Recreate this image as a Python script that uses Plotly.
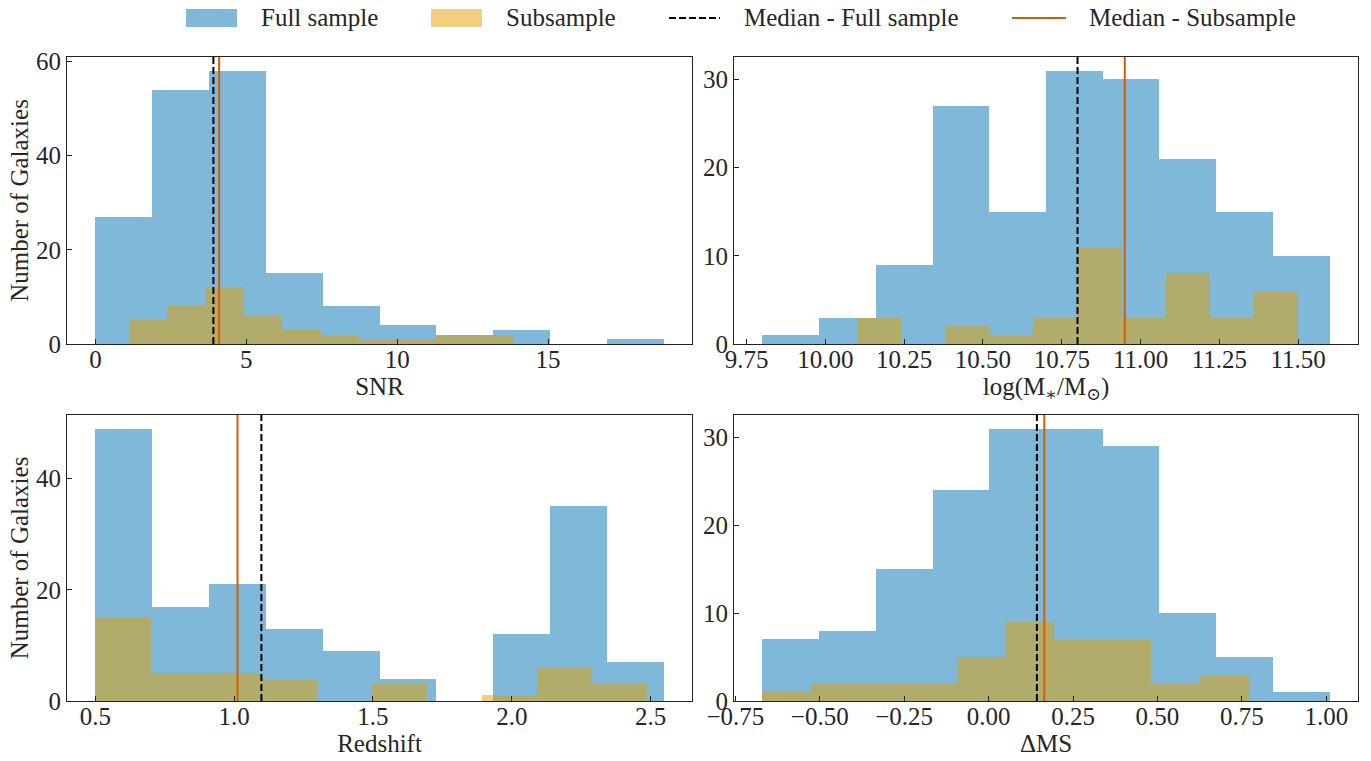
import numpy as np
import plotly.graph_objects as go

FULL_COLOR = "rgba(0,114,178,0.5)"
SUB_COLOR = "rgba(230,159,0,0.5)"
MED_FULL_COLOR = "black"
MED_SUB_COLOR = "#D55E00"
FONT = "Liberation Serif, Times New Roman, DejaVu Serif, serif"
FS = 25
TXT = "#262626"

# ---- histogram data: (bin range), counts per bin, medians (full, sub) ----
snr_full_range = (0.0, 18.83)
snr_full_counts = [27, 54, 58, 15, 8, 4, 2, 3, 0, 1]
snr_sub_range = (1.10, 13.85)
snr_sub_counts = [5, 8, 12, 6, 3, 2, 1, 1, 2, 2]
snr_medians = (3.91, 4.10)

mass_full_range = (9.80, 11.60)
mass_full_counts = [1, 3, 9, 27, 15, 31, 30, 21, 15, 10]
mass_sub_range = (10.10, 11.50)
mass_sub_counts = [3, 0, 2, 1, 3, 11, 3, 8, 3, 6]
mass_medians = (10.80, 10.95)

z_full_range = (0.50, 2.547)
z_full_counts = [49, 17, 21, 13, 9, 4, 0, 12, 35, 7]
z_sub_range = (0.503, 2.487)
z_sub_counts = [15, 5, 5, 4, 0, 3, 0, 1, 6, 3]
z_medians = (1.098, 1.012)

dms_full_range = (-0.67, 1.01)
dms_full_counts = [7, 8, 15, 24, 31, 31, 29, 10, 5, 1]
dms_sub_range = (-0.67, 0.77)
dms_sub_counts = [1, 2, 2, 2, 5, 9, 7, 7, 2, 3]
dms_medians = (0.143, 0.165)

panels = [
    dict(full=(snr_full_range, snr_full_counts), sub=(snr_sub_range, snr_sub_counts),
         med=snr_medians, xtitle="SNR", ytitle="Number of Galaxies",
         xtick=dict(tick0=0, dtick=5), ydtick=20),
    dict(full=(mass_full_range, mass_full_counts), sub=(mass_sub_range, mass_sub_counts),
         med=mass_medians, xtitle="log(M<sub>∗</sub>/M<sub>⊙</sub>)", ytitle=None,
         xtick=dict(tick0=9.75, dtick=0.25, tickformat=".2f"), ydtick=10),
    dict(full=(z_full_range, z_full_counts), sub=(z_sub_range, z_sub_counts),
         med=z_medians, xtitle="Redshift", ytitle="Number of Galaxies",
         xtick=dict(tick0=0.5, dtick=0.5, tickformat=".1f"), ydtick=20),
    dict(full=(dms_full_range, dms_full_counts), sub=(dms_sub_range, dms_sub_counts),
         med=dms_medians, xtitle="ΔMS", ytitle=None,
         xtick=dict(tick0=-0.75, dtick=0.25, tickformat=".2f"), ydtick=10),
]

W, H = 1371, 761
xdoms = [(67 / W, 692 / W), (734 / W, 1358 / W)]
ydoms = [(1 - 344 / H, 1 - 57 / H), (1 - 701 / H, 1 - 415 / H)]

fig = go.Figure()
shapes = []


def bars(rng, counts):
    edges = np.linspace(rng[0], rng[1], len(counts) + 1)
    centers = (edges[:-1] + edges[1:]) / 2
    widths = np.diff(edges)
    return edges, centers, widths


for i, p in enumerate(panels):
    n = "" if i == 0 else str(i + 1)
    xa, ya = "x" + n, "y" + n
    fe, fc, fw = bars(*p["full"])
    se, sc, sw = bars(*p["sub"])
    fig.add_trace(go.Bar(x=fc, y=p["full"][1], width=fw, marker=dict(color=FULL_COLOR, line=dict(width=0)),
                         xaxis=xa, yaxis=ya, showlegend=False, name="Full sample"))
    fig.add_trace(go.Bar(x=sc, y=p["sub"][1], width=sw, marker=dict(color=SUB_COLOR, line=dict(width=0)),
                         xaxis=xa, yaxis=ya, showlegend=False, name="Subsample"))

    lo = min(fe[0], se[0])
    hi = max(fe[-1], se[-1])
    pad = 0.05 * (hi - lo)
    ymax = 1.05 * max(p["full"][1])

    axis_common = dict(showline=True, mirror=True, linecolor="#222", linewidth=1.2,
                       ticks="inside", ticklen=5, tickcolor="#222", showgrid=False,
                       zeroline=False, automargin=False,
                       tickfont=dict(family=FONT, size=FS, color=TXT))
    col, row = i % 2, i // 2
    fig.layout["xaxis" + n] = dict(domain=xdoms[col], anchor=ya, range=[lo - pad, hi + pad],
                                   ticklabelstandoff=-7,
                                   title=dict(text=p["xtitle"], font=dict(family=FONT, size=FS, color=TXT), standoff=4),
                                   **p["xtick"], **axis_common)
    yaxis = dict(domain=ydoms[row], anchor=xa, range=[0, ymax], tick0=0, dtick=p["ydtick"], **axis_common)
    if p["ytitle"]:
        yaxis["title"] = dict(text=p["ytitle"], font=dict(family=FONT, size=FS, color=TXT), standoff=0)
    fig.layout["yaxis" + n] = yaxis

    # median lines spanning the full axis height
    shapes.append(dict(type="line", xref=xa, yref=ya + " domain", x0=p["med"][0], x1=p["med"][0],
                       y0=0, y1=1, line=dict(color=MED_FULL_COLOR, width=2, dash="7px,3px")))
    shapes.append(dict(type="line", xref=xa, yref=ya + " domain", x0=p["med"][1], x1=p["med"][1],
                       y0=0, y1=1, line=dict(color=MED_SUB_COLOR, width=2)))

# ---- legend row across the top ----
ly = 1 - 18 / H
annotations = []
legend_items = [
    ("patch", FULL_COLOR, 186, 237, "Full sample", 259),
    ("patch", SUB_COLOR, 431, 482, "Subsample", 504),
    ("dash", MED_FULL_COLOR, 669, 720, "Median - Full sample", 742),
    ("line", MED_SUB_COLOR, 1012, 1066, "Median - Subsample", 1087),
]
for kind, color, x0, x1, label, tx in legend_items:
    if kind == "patch":
        shapes.append(dict(type="rect", xref="paper", yref="paper", x0=x0 / W, x1=x1 / W,
                           y0=1 - 27 / H, y1=1 - 9 / H, fillcolor=color, line=dict(width=0)))
    else:
        shapes.append(dict(type="line", xref="paper", yref="paper", x0=x0 / W, x1=x1 / W,
                           y0=ly, y1=ly, line=dict(color=color, width=2,
                                                   dash="7px,3px" if kind == "dash" else "solid")))
    annotations.append(dict(text=label, xref="paper", yref="paper", x=tx / W, y=ly,
                            xanchor="left", yanchor="middle", showarrow=False,
                            font=dict(family=FONT, size=FS, color=TXT)))

fig.update_layout(width=W, height=H, margin=dict(l=0, r=0, t=0, b=0, autoexpand=False),
                  barmode="overlay", bargap=0, plot_bgcolor="white", paper_bgcolor="white",
                  shapes=shapes, annotations=annotations, showlegend=False,
                  font=dict(family=FONT, size=FS, color=TXT))

fig.write_html("out.html")
